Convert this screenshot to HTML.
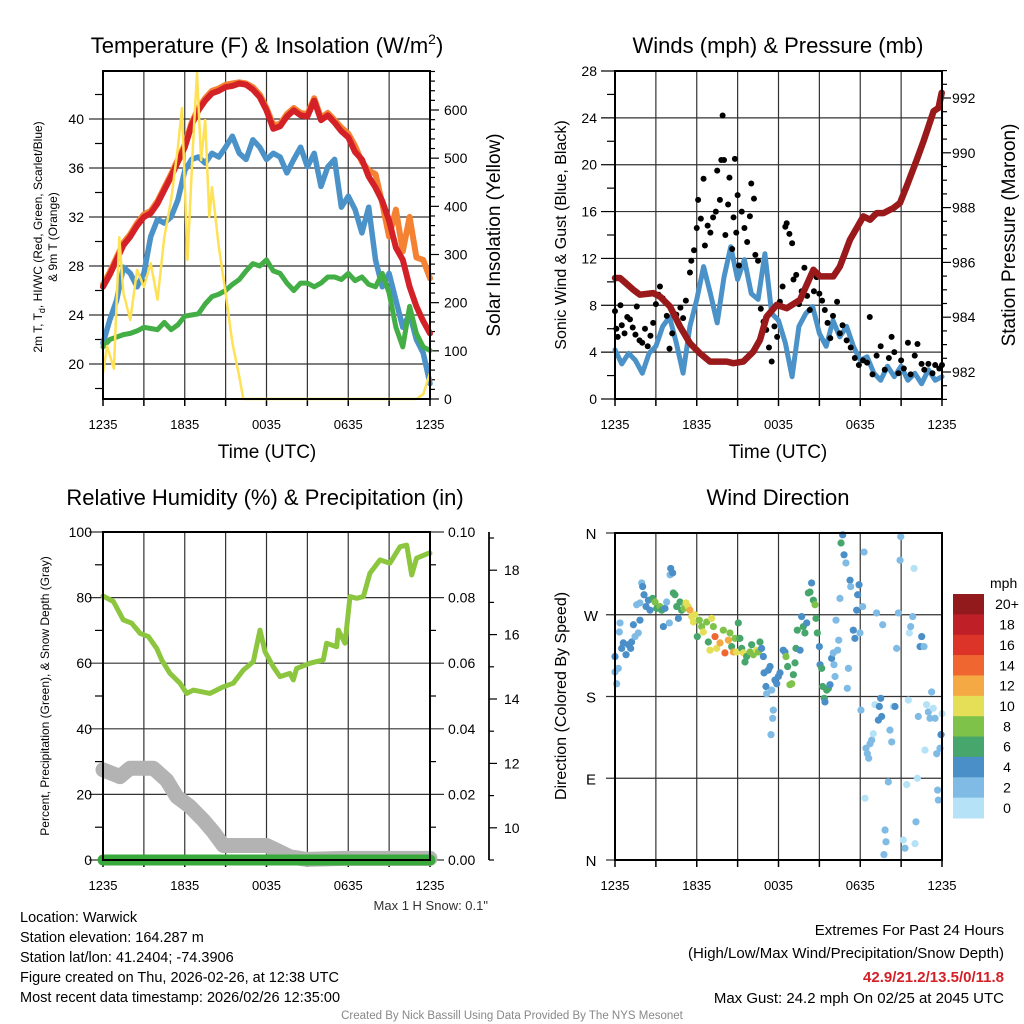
<!DOCTYPE html>
<html><head><meta charset="utf-8">
<style>
html,body{margin:0;padding:0;background:#fff;}
svg{display:block;font-family:"Liberation Sans",Arial,sans-serif;}
</style></head>
<body>
<svg id="chart" width="1024" height="1024" viewBox="0 0 1024 1024" xmlns="http://www.w3.org/2000/svg">
<rect x="0" y="0" width="1024" height="1024" fill="#fff"/>
<text x="267" y="53" font-size="22" text-anchor="middle">Temperature (F) &amp; Insolation (W/m<tspan font-size="14" dy="-9">2</tspan><tspan dy="9">)</tspan></text>
<text x="778" y="53" font-size="22" text-anchor="middle">Winds (mph) &amp; Pressure (mb)</text>
<text x="265" y="505" font-size="22" text-anchor="middle">Relative Humidity (%) &amp; Precipitation (in)</text>
<text x="778" y="505" font-size="22" text-anchor="middle">Wind Direction</text>
<text transform="translate(42,237) rotate(-90)" font-size="12" text-anchor="middle">2m T, T<tspan font-size="9" dy="3">d</tspan><tspan dy="-3">, HI/WC (Red, Green, Scarlet/Blue)</tspan></text>
<text transform="translate(57,237) rotate(-90)" font-size="12" text-anchor="middle">&amp; 9m T (Orange)</text>
<text transform="translate(500,235) rotate(-90)" font-size="19" text-anchor="middle">Solar Insolation (Yellow)</text>
<text x="267" y="458" font-size="19" text-anchor="middle">Time (UTC)</text>
<text transform="translate(566,235) rotate(-90)" font-size="16" text-anchor="middle">Sonic Wind &amp; Gust (Blue, Black)</text>
<text transform="translate(1015,235) rotate(-90)" font-size="19" text-anchor="middle">Station Pressure (Maroon)</text>
<text x="778" y="458" font-size="19" text-anchor="middle">Time (UTC)</text>
<text transform="translate(49,696) rotate(-90)" font-size="12" text-anchor="middle">Percent, Precipitation (Green), &amp; Snow Depth (Gray)</text>
<text transform="translate(566,696) rotate(-90)" font-size="16" text-anchor="middle">Direction (Colored By Speed)</text>
<text x="488" y="910" font-size="13" text-anchor="end" fill="#333">Max 1 H Snow: 0.1"</text>
<text x="990" y="588" font-size="14">mph</text>
<g font-size="14.5">
<text x="20" y="922">Location: Warwick</text>
<text x="20" y="942">Station elevation: 164.287 m</text>
<text x="20" y="962">Station lat/lon: 41.2404; -74.3906</text>
<text x="20" y="982">Figure created on Thu, 2026-02-26, at 12:38 UTC</text>
<text x="20" y="1002">Most recent data timestamp: 2026/02/26 12:35:00</text>
</g>
<g font-size="15" text-anchor="end">
<text x="1004" y="935">Extremes For Past 24 Hours</text>
<text x="1004" y="958">(High/Low/Max Wind/Precipitation/Snow Depth)</text>
<text x="1004" y="982" fill="#d42027" font-weight="bold">42.9/21.2/13.5/0/11.8</text>
<text x="1004" y="1003">Max Gust: 24.2 mph On 02/25 at 2045 UTC</text>
</g>
<text x="512" y="1019" font-size="11.5" fill="#888" text-anchor="middle">Created By Nick Bassill Using Data Provided By The NYS Mesonet</text>
<g id="plots"></g>
</svg>
<script>
const timeLabels = ['1235','1835','0035','0635','1235'];
const halfHours = [0,0.5,1,1.5,2,2.5,3,3.5,4,4.5,5,5.5,6,6.5,7,7.5,8,8.5,9,9.5,10,10.5,11,11.5,12,12.5,13,13.5,14,14.5,15,15.5,16,16.5,17,17.5,18,18.5,19,19.5,20,20.5,21,21.5,22,22.5,23,23.5,24];
const temp2m = [26.3,27.3,28.5,29.7,30.4,31.3,32.0,32.3,33.1,34.2,35.3,36.5,37.7,39.5,40.7,41.5,42.1,42.3,42.6,42.7,42.9,42.8,42.4,41.8,40.7,39.2,39.4,40.2,40.7,40.3,40.2,41.5,39.9,40.3,39.7,39.0,38.5,37.3,36.7,35.3,34.4,33.3,31.7,29.5,28.5,26.3,24.7,23.5,22.5];
const temp9m = [26.5,27.5,28.7,29.9,30.6,31.5,32.2,32.5,33.3,34.4,35.5,36.7,37.9,39.7,40.9,41.7,42.3,42.5,42.8,42.9,43.0,42.9,42.6,42.0,40.9,39.5,39.6,40.4,40.9,40.5,40.4,41.7,40.1,40.5,39.9,39.3,38.8,37.8,36.5,35.8,35.5,33.1,30.4,32.6,29.2,32.0,28.7,28.5,27.0];
const windChill = [21.7,23.6,25.2,27.9,27.4,26.3,27.4,30.4,31.8,31.5,32.0,33.4,35.8,36.7,36.9,36.4,37.2,36.9,37.7,38.6,37.2,36.7,38.3,37.7,36.7,37.2,36.9,35.6,36.7,37.7,36.1,37.2,34.5,36.1,36.7,32.8,33.7,32.6,30.7,32.8,28.5,26.3,27.4,25.2,23.0,24.1,22.0,20.9,18.4];
const dewPoint = [21.4,22.0,22.2,22.4,22.5,22.7,23.0,22.9,22.8,23.4,22.8,23.2,23.9,24.0,24.1,24.9,25.5,25.7,26.0,26.5,26.9,27.6,28.2,28.0,28.5,27.6,27.4,26.6,26.0,26.6,26.6,26.3,26.6,27.1,27.1,26.9,27.4,26.8,27.1,26.5,26.3,27.4,25.8,23.0,21.4,24.7,22.5,21.4,21.1];
const insolHours = [0,0.3,0.8,1.2,1.5,2,2.5,3,3.5,4,4.5,5,5.5,5.8,6.2,6.6,6.9,7.2,7.5,7.8,8,8.5,9,9.5,10,10.3,23,23.5,24];
const insolValues = [54,110,63,336,220,164,268,233,282,206,336,413,523,604,289,523,677,496,579,378,440,316,220,116,46,0,0,10,54];
const tempTicks = [20,24,28,32,36,40];
const insolTicks = [0,100,200,300,400,500,600];

const windSpeed = [4.2,3.0,3.9,3.3,2.2,3.9,4.5,6.2,7.0,4.8,2.2,6.2,8.5,11.3,9.0,6.5,10.4,13.0,10.2,11.9,9.0,8.5,12.4,7.3,6.7,4.8,1.9,6.2,7.3,7.9,5.6,4.5,6.7,5.3,6.2,4.5,3.3,3.6,2.2,1.6,2.8,1.9,2.8,1.6,2.2,1.3,2.5,1.6,1.9];
const pressHours = [0,0.37,1.35,1.83,2.81,3.30,4.04,4.77,5.50,6.24,6.97,8.20,8.69,9.42,10.15,10.64,11.13,11.87,12.60,13.58,14.56,15.05,16.02,16.51,17.25,18.23,18.72,19.21,19.70,20.43,20.92,21.41,22.15,22.64,23.38,23.74,23.98];
const pressValues = [985.43,985.43,985.00,984.82,984.88,984.75,984.39,983.66,983.05,982.68,982.38,982.38,982.32,982.38,982.74,983.17,984.02,984.45,984.33,984.63,985.73,985.49,985.49,985.85,986.83,987.68,987.56,987.80,987.80,987.98,988.17,988.78,989.75,990.42,991.52,991.64,992.19];
const gustHours = [0.0,0.1,0.2,0.4,0.5,0.7,0.9,1.1,1.3,1.5,1.6,1.8,2.0,2.2,2.4,2.6,2.8,3.0,3.2,3.3,3.5,3.8,4.0,4.2,4.5,4.8,5.0,5.2,5.5,5.6,5.8,6.0,6.1,6.3,6.5,6.6,6.8,7.0,7.2,7.4,7.5,7.7,7.8,7.9,8.0,8.1,8.3,8.4,8.6,8.7,8.8,8.9,9.0,9.1,9.3,9.5,9.7,9.9,10.0,10.2,10.3,10.5,10.7,10.9,11.1,11.3,11.5,11.7,11.9,12.1,12.3,12.5,12.6,12.8,13.0,13.1,13.3,13.5,13.7,13.9,14.1,14.3,14.6,14.8,15.0,15.2,15.4,15.6,15.8,16.0,16.3,16.5,16.7,17.0,17.3,17.6,17.9,18.2,18.5,18.7,18.9,19.2,19.5,19.8,20.1,20.3,20.5,20.8,21.0,21.2,21.5,21.7,22.0,22.2,22.5,22.7,23.0,23.3,23.5,23.8,24.0];
const gustValues = [7.5,6.0,5.3,8.0,6.3,5.6,7.0,6.8,6.1,5.5,7.9,5.0,4.8,6.0,4.5,5.4,6.5,8.1,8.9,9.6,8.6,7.1,4.3,5.6,7.2,7.8,6.9,8.4,10.8,11.8,12.7,14.6,17.0,15.4,18.8,13.1,14.8,14.2,15.5,16.0,19.5,17.0,20.4,24.2,20.4,14.0,16.6,18.9,12.8,15.5,20.5,14.2,17.4,11.4,16.0,14.6,13.4,15.6,18.4,17.1,12.3,11.8,7.7,6.6,5.9,4.4,3.2,6.2,5.3,8.3,9.6,14.7,15.0,14.1,13.3,10.2,10.6,8.1,9.2,11.2,8.8,7.6,9.2,10.4,9.0,8.4,7.6,6.5,5.2,7.1,8.3,5.6,6.3,5.0,4.4,3.5,2.9,3.3,3.1,7.0,2.1,3.7,4.5,2.5,3.5,5.3,4.0,2.2,3.3,2.6,4.8,2.1,3.7,4.7,3.0,2.5,3.0,2.2,2.9,2.6,2.9];
const windTicks = [0,4,8,12,16,20,24,28];
const pressTicks = [982,984,986,988,990,992];

const rhHours = [0,0.76,1.49,2.11,2.72,3.33,3.94,4.31,4.92,5.65,6.14,6.63,7.85,8.83,9.56,10.30,11.03,11.52,11.89,12.50,12.99,13.72,13.97,14.21,15.19,16.17,16.41,17.15,17.27,17.76,18.13,18.62,19.11,19.59,20.33,21.06,21.80,22.29,22.66,23.02,23.88,24];
const rhValues = [80.5,78.8,73.2,72.2,69.1,68.1,64.5,61.0,56.9,53.9,50.8,51.8,50.8,52.8,53.9,57.9,60.5,70.1,63.5,58.9,55.9,56.9,54.9,58.4,60.0,61.0,66.1,65.0,70.1,66.1,80.3,79.8,80.3,87.4,91.5,90.5,95.5,96.0,86.9,92.0,93.5,93.5];
const snowHours = [0,1.25,1.98,3.69,4.67,5.41,6.38,7.36,8.09,8.83,12.01,12.74,13.72,14.95,17.64,24];
const snowDepth = [11.80,11.59,11.85,11.85,11.48,10.97,10.66,10.24,9.88,9.45,9.45,9.30,9.10,9.02,9.05,9.05];
const precipHours = [0,24];
const precipValues = [0,0];
const rhTicks = [0,20,40,60,80,100];
const precipTicks = ['0.00','0.02','0.04','0.06','0.08','0.10'];
const snowTicks = [10,12,14,16,18];

const dirHours = [0.0,0.0,0.12,0.24,0.37,0.32,0.49,0.61,0.81,0.98,1.15,1.22,1.35,1.47,1.71,1.83,1.59,1.83,1.96,2.03,2.13,2.28,2.45,2.57,2.76,2.94,3.06,3.30,3.43,3.55,3.67,3.79,3.99,4.09,4.04,4.23,4.28,4.40,4.53,4.65,4.77,4.89,5.06,5.21,5.38,5.50,5.63,5.75,5.87,6.04,6.19,6.36,6.48,6.73,6.85,6.97,7.09,7.22,7.34,7.46,7.71,7.95,8.07,8.32,8.44,8.56,8.69,8.81,8.93,9.05,9.17,9.30,9.42,9.54,9.66,9.91,10.03,10.15,10.40,10.52,10.64,10.76,10.89,10.94,11.08,11.13,11.25,11.38,11.50,11.62,11.57,11.45,11.74,11.87,11.99,12.11,12.35,12.48,12.55,12.67,12.84,12.97,13.09,13.21,13.28,13.38,13.58,13.70,13.82,13.94,14.07,14.19,14.31,14.43,14.56,14.68,14.75,14.85,15.00,15.05,15.17,15.24,15.36,15.41,15.54,15.66,15.78,15.90,16.02,16.07,16.15,16.22,16.34,16.42,16.51,16.59,16.71,16.81,16.95,17.05,17.13,17.25,17.30,17.49,17.61,17.74,17.81,17.91,17.98,18.05,18.18,18.28,18.35,18.42,18.52,18.62,18.72,18.84,18.96,19.08,19.20,19.33,19.40,19.50,19.57,19.65,19.74,19.82,19.89,20.06,20.18,20.31,20.43,20.55,20.67,20.80,20.92,20.97,21.16,21.28,21.41,21.53,21.60,21.70,21.85,21.95,22.02,22.09,22.19,22.26,22.39,22.51,22.68,22.75,22.87,23.00,23.12,23.24,23.36,23.49,23.61,23.68,23.73,23.85,23.93,24.0];
const dirDegrees = [224,207,194,211,261,251,233,239,226,237,233,240,259,246,250,264,281,283,305,301,292,279,286,275,288,284,277,279,275,257,277,284,261,321,314,316,294,292,279,266,284,275,277,283,279,275,268,262,270,246,264,257,251,262,240,231,266,257,246,233,239,253,228,242,250,235,229,244,229,261,244,233,228,218,224,229,237,226,231,229,240,233,224,206,191,183,209,213,187,165,156,138,198,194,202,206,231,229,224,213,193,194,204,217,233,253,231,268,257,250,261,294,295,305,286,281,266,250,235,215,211,191,178,174,187,189,193,222,228,215,202,264,231,242,288,349,358,336,327,189,211,308,301,253,244,275,292,303,250,165,279,339,68,123,117,112,128,132,139,171,272,154,169,178,158,259,6,33,20,86,143,130,169,169,233,272,330,356,22,13,83,176,250,257,268,321,18,42,90,158,235,246,235,121,171,163,156,185,167,156,117,77,66,123,138,161];
const dirSpeeds = [5,3,3,3,3,3,5,5,5,5,5,5,5,3,3,5,3,3,3,5,5,5,5,5,7,9,7,9,7,5,5,3,3,5,3,5,7,7,7,5,7,7,9,11,11,13,11,11,11,7,9,9,11,9,7,11,11,9,15,11,13,9,15,13,9,7,13,9,11,7,7,7,11,7,7,9,7,9,11,9,7,5,5,5,5,3,5,5,3,3,3,3,5,5,5,5,5,5,9,7,9,9,7,7,7,7,5,5,7,7,5,7,7,5,7,9,7,7,5,5,7,7,7,5,7,7,5,5,3,3,3,3,3,3,3,7,5,5,3,3,3,5,3,5,5,5,5,5,3,3,3,3,1,3,3,3,3,3,1,1,3,5,5,5,5,3,3,3,3,3,3,3,1,5,3,3,3,3,1,3,1,1,1,3,3,1,1,3,1,3,5,5,3,1,1,3,3,3,1,3,3,3,3,3,5,1];
const speedBins = ['0','2','4','6','8','10','12','14','16','18','20+'];
const speedColors = ['#b5e2f6','#7fbbe4','#4a8fc7','#47a66b','#7fc24a','#e5df58','#f5a945','#ef6631','#dc3428','#bf1f27','#921a1d'];
const dirLabels = ['N','E','S','W','N'];
const dirTicks = [0,90,180,270,360];
</script>
<script>
const NS = 'http://www.w3.org/2000/svg';
const root = document.getElementById('plots');
function mk(tag, attrs, parent) {
  const e = document.createElementNS(NS, tag);
  for (const k in attrs) e.setAttribute(k, attrs[k]);
  (parent || root).appendChild(e);
  return e;
}
function lin(d0, d1, r0, r1) { return v => r0 + (v - d0) * (r1 - r0) / (d1 - d0); }
function pathD(xs, ys, fx, fy) {
  return xs.map((x, i) => (i ? 'L' : 'M') + fx(x).toFixed(1) + ' ' + fy(ys[i]).toFixed(1)).join(' ');
}
function drawLine(xs, ys, fx, fy, color, w, name) {
  const p = mk('path', {d: pathD(xs, ys, fx, fy), fill: 'none', stroke: color, 'stroke-width': w, 'stroke-linejoin': 'round', 'stroke-linecap': 'round'});
  
  
  return p;
}
function text(x, y, s, size, anchor, name) {
  const t = mk('text', {x: x, y: y, 'font-size': size, 'text-anchor': anchor});
  t.textContent = s;
  
  
  return t;
}
function frame(x0, x1, y0, y1, prefix, labelY) {
  const fx = lin(0, 24, x0, x1);
  for (let h = 3; h < 24; h += 3) {
    const g = mk('line', {x1: fx(h), x2: fx(h), y1: y0, y2: y1, stroke: '#333', 'stroke-width': 1.2});
    
    
  }
  for (let h = 0; h <= 24; h += 3) {
    const t = mk('line', {x1: fx(h), x2: fx(h), y1: y1, y2: y1 + 7, stroke: '#000', 'stroke-width': 1.5});
    
    
  }
  timeLabels.forEach((s, i) => text(fx(i * 6), labelY, s, 13, 'middle', prefix + '-x-tick-label'));
  return fx;
}
function border(x0, x1, y0, y1, name) {
  const r = mk('rect', {x: x0, y: y0, width: x1 - x0, height: y1 - y0, fill: 'none', stroke: '#000', 'stroke-width': 2});
  
  
}
function hgrid(x0, x1, y, name) {
  const g = mk('line', {x1: x0, x2: x1, y1: y, y2: y, stroke: '#333', 'stroke-width': 1.2});
  
  
}
function tick(x, y, len, name) {
  const t = mk('line', {x1: x, x2: x + len, y1: y, y2: y, stroke: '#000', 'stroke-width': 1.2});
  
  
}

{
  const X0 = 103, X1 = 430, Y0 = 71, Y1 = 399;
  const fx = frame(X0, X1, Y0, Y1, 'temp', 429);
  const fy = lin(20, 40, 364, 119);
  const fi = lin(0, 600, 399, 110);
  tempTicks.forEach(v => { hgrid(X0 - 14, X1, fy(v), 'temp-y-gridline'); text(84, fy(v) + 5, String(v), 14, 'end', 'temp-y-tick-label'); });
  for (let v = 18; v <= 43; v += 2) if (v % 4) tick(X0 - 8, fy(v), 8, 'temp-minor-tick');
  insolTicks.forEach(v => { tick(X1, fi(v), 9, 'insol-major-tick'); text(444, fi(v) + 5, String(v), 14, 'start', 'insol-tick-label'); });
  for (let v = 20; v <= 680; v += 20) if (v % 100) tick(X1, fi(v), 5, 'insol-minor-tick');
  drawLine(halfHours, temp9m, fx, fy, '#f58232', 6, 'temp-9m-line');
  drawLine(halfHours, windChill, fx, fy, '#4b92c9', 5.5, 'windchill-line');
  drawLine(halfHours, temp2m, fx, fy, '#d42027', 6, 'temp-2m-line');
  drawLine(halfHours, dewPoint, fx, fy, '#43ae45', 5, 'dewpoint-line');
  drawLine(insolHours, insolValues, fx, fi, '#ffe155', 2.5, 'insolation-line');
  border(X0, X1, Y0, Y1, 'temp-plot-frame');
}
{
  const X0 = 615, X1 = 942, Y0 = 71, Y1 = 399;
  const fx = frame(X0, X1, Y0, Y1, 'wind', 429);
  const fy = lin(0, 28, 399, 71);
  const fp = lin(982, 992, 372, 98);
  windTicks.forEach(v => { if (v > 0 && v < 28) hgrid(X0, X1, fy(v), 'wind-y-gridline'); tick(X0 - 14, fy(v), 14, 'wind-major-tick'); text(597, fy(v) + 5, String(v), 14, 'end', 'wind-tick-label'); });
  for (let v = 2; v <= 26; v += 4) tick(X0 - 8, fy(v), 8, 'wind-minor-tick');
  pressTicks.forEach(v => { tick(X1, fp(v), 9, 'pressure-major-tick'); text(952, fp(v) + 5, String(v), 14, 'start', 'pressure-tick-label'); });
  for (let v = 981; v <= 993; v += 0.5) if (v % 2) tick(X1, fp(v), 5, 'pressure-minor-tick');
  drawLine(halfHours, windSpeed, fx, fy, '#4b92c9', 5, 'sonic-wind-line');
  gustHours.forEach((h, i) => {
    const c = mk('circle', {cx: fx(h), cy: fy(gustValues[i]), r: 3, fill: '#000'});
    
    
  });
  drawLine(pressHours, pressValues, fx, fp, '#9a1a1c', 6.5, 'pressure-line');
  border(X0, X1, Y0, Y1, 'wind-plot-frame');
}
{
  const X0 = 103, X1 = 430, Y0 = 532, Y1 = 860;
  const fx = frame(X0, X1, Y0, Y1, 'rh', 890);
  const fy = lin(0, 100, 860, 532);
  const fs = lin(9, 19, 860, 538);
  rhTicks.forEach((v, i) => {
    hgrid(X0 - 14, X1 + 14, fy(v), 'rh-y-gridline');
    text(92, fy(v) + 5, String(v), 14, 'end', 'rh-tick-label');
    text(448, fy(v) + 5, precipTicks[i], 14, 'start', 'precip-tick-label');
  });
  for (let v = 10; v <= 90; v += 20) { tick(X0 - 8, fy(v), 8, 'rh-minor-tick'); tick(X1, fy(v), 6, 'precip-minor-tick'); }
  const ax = mk('line', {x1: 489, x2: 489, y1: 532, y2: 860, stroke: '#222', 'stroke-width': 2});
  
  
  snowTicks.forEach(v => { tick(489, fs(v), 8, 'snow-major-tick'); text(504, fs(v) + 5, String(v), 14, 'start', 'snow-tick-label'); });
  for (let v = 9; v <= 19; v += 1) if (v % 2) tick(489, fs(v), 5, 'snow-minor-tick');
  drawLine(snowHours, snowDepth, fx, fs, '#b3b3b3', 15, 'snow-depth-line');
  drawLine(rhHours, rhValues, fx, fy, '#8cc63f', 5, 'rh-line');
  const fpr = lin(0, 0.1, 860, 532);
  drawLine(precipHours, precipValues, fx, fpr, '#3aa93c', 11, 'precip-line');
  drawLine(precipHours, precipValues, fx, fpr, '#000', 1.5, 'precip-zero-line');
  border(X0, X1, Y0, Y1, 'rh-plot-frame');
}
{
  const X0 = 615, X1 = 942, Y0 = 533, Y1 = 860;
  const fx = frame(X0, X1, Y0, Y1, 'dir', 890);
  const fy = lin(0, 360, 860, 533);
  dirTicks.forEach((v, i) => { hgrid(X0 - 9, X1, fy(v), 'dir-y-gridline'); text(591, fy(v) + 6, dirLabels[i], 15, 'middle', 'dir-tick-label'); });
  dirHours.forEach((h, i) => {
    const idx = Math.min(10, Math.floor(dirSpeeds[i] / 2));
    const c = mk('circle', {cx: fx(h), cy: fy(dirDegrees[i]), r: 3.6, fill: speedColors[idx]});
    
    
  });
  border(X0, X1, Y0, Y1, 'dir-plot-frame');
  const cbTop = 594, cbBot = 818, cbh = (cbBot - cbTop) / speedBins.length;
  speedBins.forEach((lab, i) => {
    const k = speedBins.length - 1 - i;
    const r = mk('rect', {x: 953, y: cbTop + i * cbh, width: 31, height: cbh + 0.5, fill: speedColors[k]});
    
    
    text(1007, cbTop + i * cbh + cbh / 2 + 5, speedBins[k], 14, 'middle', 'colorbar-label');
  });
}
</script>
</body></html>
